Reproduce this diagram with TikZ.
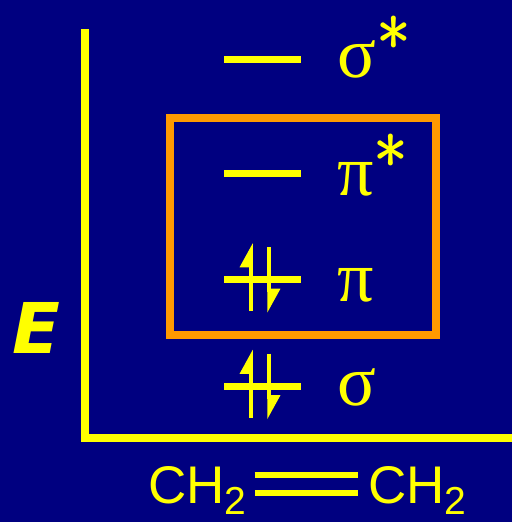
\documentclass[tikz,border=0pt]{standalone}
\usepackage{fontspec}
\setmainfont{Liberation Sans}
\newfontfamily\greekfont{Liberation Serif}
\newfontfamily\efont{DejaVu Sans}
\usetikzlibrary{positioning,arrows.meta}

\definecolor{navy}{RGB}{0,0,128}
\definecolor{lvlyellow}{RGB}{255,255,0}
\definecolor{boxorange}{RGB}{255,153,0}
\newcommand{\orbstar}{\raisebox{6pt}{\fontsize{74}{74}\selectfont\sffamily*}}

\begin{document}
\begin{tikzpicture}[
  x=1pt, y=-1pt,
  level/.style={
    fill=lvlyellow,
    minimum width=77pt,
    minimum height=7pt,
    inner sep=0pt
  },
  orb/.style={
    text=lvlyellow,
    inner sep=0pt,
    anchor=base west,
    font=\greekfont\fontsize{72}{72}\selectfont
  },
  axis/.style={draw=lvlyellow, line width=8pt, miter limit=4},
  frame/.style={draw=boxorange, line width=8pt, inner sep=0pt},
  spin/.style={draw=lvlyellow, line width=3.5pt,
    -{Triangle[left,length=21pt,width=22pt]}},
  bond/.style={draw=lvlyellow, line width=6pt, double=navy, double distance=12pt},
  formula/.style={text=lvlyellow, inner sep=0pt, anchor=base west,
    font=\fontsize{53}{53}\selectfont}
]
\fill[navy] (0,0) rectangle (512,522);
\useasboundingbox (0,0) rectangle (512,522);

% axes
\coordinate (ytop) at (85,29);
\coordinate (origin) at (85,437.5);
\coordinate (xend) at (512,437.5);
\draw[axis] (ytop) -- (origin) -- (xend);
\node[text=lvlyellow, inner sep=0pt, font=\efont\bfseries\itshape\fontsize{70}{70}\selectfont]
  (energy) at (36.5,327.5) {E};

% pi system
\node[frame, minimum width=266pt, minimum height=216.5pt] (pibox) at (303,226.25) {};

% levels
\node[level] (sigstar) at (262.5,59) {};
\node[level] (pistar) at (262.5,173) {};
\node[level] (pi) at (262.5,279.5) {};
\node[level] (sig) at (262.5,386) {};

\node[orb] (sigstarlab) at ([xshift=36pt,yshift=-18pt]sigstar.east) {σ\orbstar};
\node[orb] (pistarlab) at ([xshift=36pt,yshift=-22pt]pistar.east) {π\orbstar};
\node[orb] (pilab) at ([xshift=36pt,yshift=-22pt]pi.east) {π};
\node[orb] (siglab) at ([xshift=36pt,yshift=-19pt]sig.east) {σ};

% electrons
\coordinate (piup0) at (251,311);
\coordinate (piup1) at (251,243);
\coordinate (pidn0) at (269,247);
\coordinate (pidn1) at (269,313);
\draw[spin] (piup0) -- (piup1);
\draw[spin] (pidn0) -- (pidn1);
\coordinate (sigup0) at (251,417.5);
\coordinate (sigup1) at (251,349.5);
\coordinate (sigdn0) at (269,353.5);
\coordinate (sigdn1) at (269,419.5);
\draw[spin] (sigup0) -- (sigup1);
\draw[spin] (sigdn0) -- (sigdn1);

% ethene
\node[formula] (ch2a) at (148,503) {CH\raisebox{-11pt}{\fontsize{39}{39}\selectfont 2}};
\node[formula] (ch2b) at (368,503) {CH\raisebox{-11pt}{\fontsize{39}{39}\selectfont 2}};
\draw[bond] ([xshift=8pt,yshift=19pt]ch2a.base east) -- ([xshift=-10pt,yshift=19pt]ch2b.base west);
\end{tikzpicture}
\end{document}
